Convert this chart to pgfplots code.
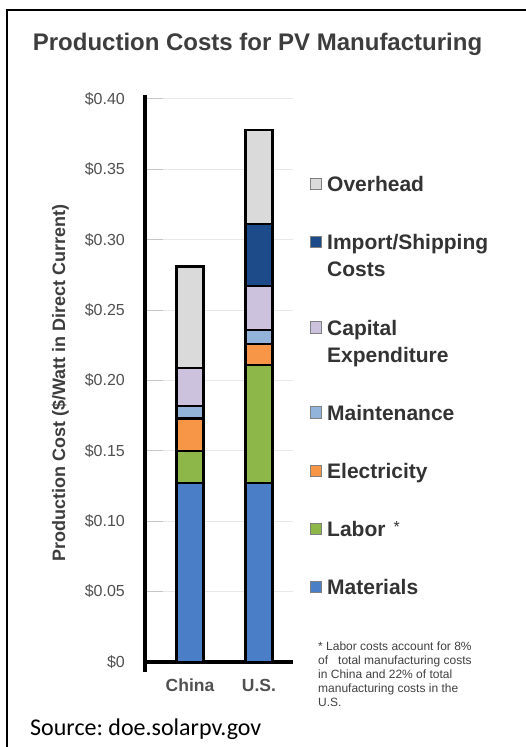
\documentclass[border=0pt]{standalone}
\usepackage{pgfplots}
\pgfplotsset{compat=1.18}
\usepackage{fontspec}
\setmainfont{Liberation Sans}
\newfontfamily\carlito{Carlito}

\definecolor{mat}{HTML}{4A7EC6}
\definecolor{lab}{HTML}{8DB849}
\definecolor{ele}{HTML}{F79646}
\definecolor{mnt}{HTML}{93B4DA}
\definecolor{cap}{HTML}{CDC2DD}
\definecolor{imp}{HTML}{1D4B8A}
\definecolor{ovh}{HTML}{DADADA}
\definecolor{titlegray}{HTML}{3D3D3D}
\definecolor{ticgray}{HTML}{505050}
\definecolor{legtext}{HTML}{333333}

% legend entries as top-aligned tabulars so that multi-line ones keep the square on line 1
\newcommand{\entry}[1]{\begin{tabular}[t]{@{}l@{}}#1\end{tabular}}

\begin{document}
\begin{tikzpicture}
\useasboundingbox (0,0) rectangle (526pt,747pt);
\draw[line width=2.3pt] (7pt,-5pt) -- (7pt,737pt) -- (530pt,737pt);

\node[anchor=base, inner sep=0pt, text=titlegray,
      font=\bfseries\fontsize{24}{28}\selectfont] at (257.5pt,696pt)
      {Production Costs for PV Manufacturing};

\node[rotate=90, anchor=base, inner sep=0pt, text=titlegray,
      font=\bfseries\fontsize{18}{21}\selectfont] at (65pt,364pt)
      {Production Cost (\$/Watt in Direct Current)};

\begin{axis}[
  at={(145pt,85pt)}, anchor=south west,
  scale only axis, width=148pt, height=563pt,
  ybar stacked, bar width=27pt,
  xmin=-0.652, xmax=1.493, ymin=0, ymax=0.4,
  axis x line=bottom, axis y line=left,
  axis line style={line width=4pt, -},
  y axis line style={shorten <=-10pt, shorten >=-4pt},
  xtick={0,1}, xticklabels={China,U.S.},
  x tick style={draw=none},
  ytick={0,0.05,0.1,0.15,0.2,0.25,0.3,0.35,0.4},
  yticklabels={\$0,\$0.05,\$0.10,\$0.15,\$0.20,\$0.25,\$0.30,\$0.35,\$0.40},
  y tick style={draw=gray!45, line width=1pt},
  major tick length=18pt, tick align=inside,
  ymajorgrids, grid style={gray!18, line width=1pt},
  xticklabel style={font=\bfseries\fontsize{17.5}{20}\selectfont, text=ticgray,
                    anchor=base, inner sep=0pt, yshift=-30pt},
  yticklabel style={font=\fontsize{16}{19}\selectfont, text=ticgray,
                    anchor=east, inner sep=0pt, xshift=-20pt},
  every axis plot/.append style={draw=black, line width=2.1pt},
  reverse legend,
  legend image code/.code={\draw[#1, draw=black!50, line width=1pt] (0pt,2pt) rectangle (11.5pt,13.5pt);},
  legend style={at={(1,1)}, anchor=north west, xshift=16.5pt, yshift=-73.6pt,
                draw=none, fill=none, inner sep=0pt, row sep=31.2pt, column sep=5pt,
                cells={anchor=base west},
                nodes={inner sep=0pt, text depth=, text=legtext,
                       font=\bfseries\fontsize{21}{27}\selectfont}},
]
\addplot[fill=mat] coordinates {(0,0.127) (1,0.127)};
\addplot[fill=lab] coordinates {(0,0.023) (1,0.084)};
\addplot[fill=ele] coordinates {(0,0.023) (1,0.015)};
\addplot[fill=mnt] coordinates {(0,0.009) (1,0.010)};
\addplot[fill=cap] coordinates {(0,0.027) (1,0.031)};
\addplot[fill=imp] coordinates {(0,0) (1,0.044)};
\addplot[fill=ovh] coordinates {(0,0.072) (1,0.067)};
\addlegendentry{\entry{Materials}}
\addlegendentry{\entry{Labor\hspace{8pt}\raisebox{4pt}{\mdseries\fontsize{16}{16}\selectfont *}}}
\addlegendentry{\entry{Electricity}}
\addlegendentry{\entry{Maintenance}}
\addlegendentry{\entry{Capital\\Expenditure}}
\addlegendentry{\entry{Import/Shipping\\Costs}}
\addlegendentry{\entry{Overhead}}
\end{axis}

\node[anchor=north west, align=left, inner sep=0pt, text=black!75,
      font=\fontsize{12}{14}\selectfont] at (318pt,105.5pt)
      {* Labor costs account for 8\%\\
       of\ \ \ total manufacturing costs\\
       in China and 22\% of total\\
       manufacturing costs in the\\
       U.S.};

\node[anchor=base west, inner sep=0pt, font=\carlito\fontsize{24}{28}\selectfont]
      at (30pt,12pt) {Source:\ doe.solarpv.gov};
\end{tikzpicture}
\end{document}
